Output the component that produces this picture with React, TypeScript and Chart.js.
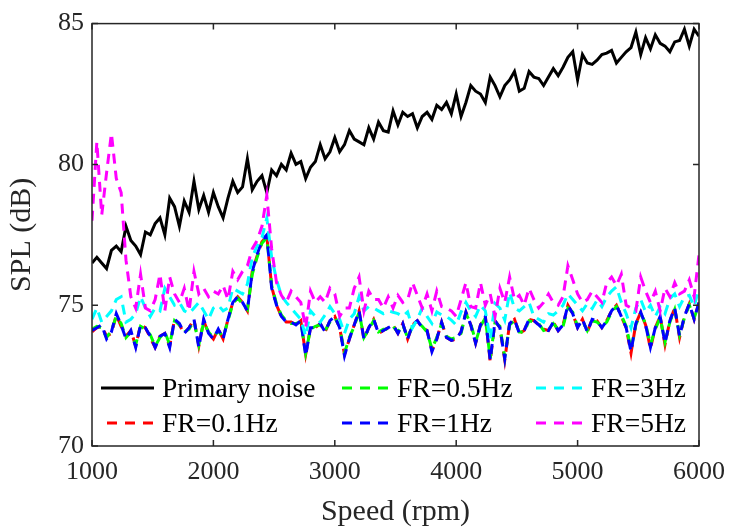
import { useEffect, useRef } from 'react'
import { Chart, registerables } from 'chart.js'

Chart.register(...registerables)

// speed grid (rpm), one sample every 40 rpm
const SPEED = Array.from({ length: 126 }, (_, i) => 1000 + 40 * i)

const PRIMARY = [
  76.5, 76.7, 76.5, 76.3, 76.95, 77.1, 76.9, 77.8, 77.3, 77.1,
  76.8, 77.6, 77.5, 77.9, 78.1, 77.5, 78.8, 78.5, 77.8, 78.7,
  78.3, 79.4, 78.4, 78.9, 78.3, 79.0, 78.5, 78.1, 78.8, 79.4,
  79.0, 79.2, 80.2, 79.1, 79.4, 79.6, 79.0, 79.8, 79.6, 80.0,
  79.8, 80.4, 80.0, 80.1, 79.5, 79.9, 80.1, 80.7, 80.2, 80.45,
  80.95, 80.45, 80.7, 81.2, 80.9, 80.8, 80.7, 81.3, 80.9, 81.5,
  81.2, 81.15, 81.9, 81.4, 81.85, 81.7, 81.8, 81.3, 81.7, 81.85,
  81.6, 82.1, 81.95, 82.2, 81.8, 82.5, 81.7, 82.2, 82.8, 82.6,
  82.5, 82.2, 83.1, 82.8, 82.4, 82.8, 83.0, 83.3, 82.6, 82.7,
  83.3, 83.1, 83.05, 82.8, 83.1, 83.4, 83.15, 83.45, 83.8, 84.0,
  83.0, 83.9, 83.6, 83.55, 83.7, 83.9, 83.95, 84.05, 83.6, 83.8,
  84.0, 84.15, 84.7, 83.9, 84.5, 84.1, 84.6, 84.3, 84.2, 84.0,
  84.35, 84.4, 84.8, 84.2, 84.8, 84.55,
]

const FR01 = [
  74.05, 74.2, 74.25, 73.9, 74.0, 74.65, 74.25, 73.9, 74.1, 73.55,
  74.3, 74.2, 73.85, 73.5, 73.9, 74.0, 73.55, 74.5, 74.3, 74.0,
  74.2, 74.5, 73.55, 74.45, 74.0, 73.8, 74.15, 73.8, 74.5, 75.1,
  75.3, 75.1, 74.8, 76.2, 76.75, 77.25, 77.45, 75.65, 75.0, 74.6,
  74.4, 74.4, 74.3, 74.45, 73.25, 74.2, 74.2, 74.35, 74.05, 74.45,
  74.6, 74.2, 73.25, 73.8, 74.3, 74.8, 73.8, 74.2, 74.5, 74.0,
  74.1, 74.2, 74.3, 74.0, 74.35, 73.8, 74.3, 74.45, 74.2, 74.1,
  73.4, 73.8, 74.4, 73.85, 73.75, 73.8, 74.05, 74.75, 74.3, 73.65,
  74.3, 74.6, 73.0, 74.45, 74.2, 73.05, 74.35, 74.5, 74.0, 74.1,
  74.5, 74.45, 74.3, 74.15, 74.1, 74.4, 74.1, 74.3, 75.0, 74.7,
  74.2, 74.5, 74.05, 74.5, 74.45, 74.2, 74.45, 74.8, 75.0, 74.6,
  74.2, 73.3, 74.35, 74.75, 74.3, 73.45, 74.2, 74.6, 73.6, 74.45,
  74.9, 73.85, 74.6, 75.05, 74.5, 75.1,
]

const FR05 = [
  74.15, 74.25, 74.2, 73.85, 74.1, 74.6, 74.35, 73.85, 74.05, 73.6,
  74.25, 74.15, 73.95, 73.55, 73.85, 74.05, 73.6, 74.45, 74.3, 74.05,
  74.15, 74.45, 73.6, 74.4, 74.05, 73.85, 74.1, 73.85, 74.45, 75.05,
  75.25, 75.05, 74.85, 76.1, 76.7, 77.2, 77.4, 75.7, 75.05, 74.65,
  74.45, 74.35, 74.35, 74.4, 73.3, 74.15, 74.25, 74.3, 74.1, 74.4,
  74.55, 74.25, 73.3, 73.85, 74.25, 74.75, 73.85, 74.15, 74.45, 74.05,
  74.15, 74.15, 74.25, 74.05, 74.3, 73.85, 74.25, 74.4, 74.25, 74.05,
  73.45, 73.85, 74.35, 73.9, 73.8, 73.85, 74.0, 74.7, 74.35, 73.7,
  74.25, 74.55, 73.1, 74.4, 74.25, 73.15, 74.3, 74.45, 74.05, 74.05,
  74.45, 74.4, 74.35, 74.1, 74.15, 74.35, 74.15, 74.25, 74.9, 74.75,
  74.25, 74.45, 74.1, 74.45, 74.4, 74.25, 74.4, 74.75, 74.95, 74.65,
  74.25, 73.45, 74.3, 74.7, 74.35, 73.6, 74.15, 74.55, 73.7, 74.4,
  74.85, 73.95, 74.55, 75.0, 74.55, 75.05,
]

const FR1 = [
  74.1, 74.2, 74.3, 73.8, 74.05, 74.7, 74.3, 73.8, 74.1, 73.5,
  74.3, 74.2, 73.9, 73.5, 73.9, 74.0, 73.5, 74.5, 74.35, 74.0,
  74.2, 74.5, 73.5, 74.5, 74.0, 73.8, 74.15, 73.8, 74.5, 75.1,
  75.3, 75.1, 74.8, 76.2, 76.8, 77.3, 77.5, 75.6, 75.0, 74.6,
  74.4, 74.4, 74.3, 74.45, 73.2, 74.2, 74.2, 74.35, 74.05, 74.45,
  74.6, 74.2, 73.2, 73.8, 74.3, 74.8, 73.8, 74.2, 74.5, 74.0,
  74.1, 74.2, 74.3, 74.0, 74.35, 73.8, 74.3, 74.45, 74.2, 74.1,
  73.35, 73.8, 74.4, 73.85, 73.75, 73.8, 74.05, 74.75, 74.3, 73.65,
  74.3, 74.6, 73.05, 74.45, 74.2, 73.1, 74.35, 74.5, 74.0, 74.1,
  74.5, 74.45, 74.3, 74.15, 74.1, 74.4, 74.1, 74.3, 75.0, 74.7,
  74.2, 74.5, 74.05, 74.5, 74.45, 74.2, 74.45, 74.8, 75.0, 74.6,
  74.2, 73.35, 74.35, 74.75, 74.3, 73.5, 74.2, 74.6, 73.65, 74.45,
  74.9, 73.9, 74.6, 75.05, 74.5, 75.1,
]

const FR3 = [
  74.5, 74.9, 74.4, 74.6, 74.8, 75.2, 75.3, 74.4, 74.5, 74.7,
  75.3, 74.9, 74.6, 74.9, 74.8, 75.6, 75.3, 75.0, 75.1, 74.8,
  74.7, 74.9, 75.1, 74.8, 74.5, 74.9, 75.0, 74.8, 74.9, 75.6,
  75.5, 75.4, 75.75, 76.7, 77.1, 77.4, 78.1, 76.7, 75.9, 75.35,
  75.1, 74.9, 74.7, 74.5, 73.9, 74.8, 74.6, 74.4, 74.65, 74.95,
  74.7, 74.5, 74.0, 74.5, 74.7, 75.3, 74.8, 74.95, 74.9, 74.8,
  74.7, 74.8, 74.75, 74.7, 74.6, 74.76, 74.2, 74.5, 74.9, 74.6,
  74.35, 74.76, 74.65, 74.6, 74.47, 74.3, 74.76, 75.1, 74.8, 74.6,
  75.0, 74.8, 73.8, 75.06, 74.9, 74.47, 75.45, 74.9, 74.8, 74.95,
  75.1, 74.6, 74.5, 74.4, 74.7, 74.65, 74.8, 75.0, 75.4, 75.2,
  75.0, 74.8, 75.06, 74.88, 75.18, 74.95, 75.3, 75.5, 75.65, 75.1,
  74.7, 74.2, 74.9, 75.2, 74.76, 75.0, 74.6, 74.94, 74.7, 75.24,
  75.4, 74.95, 75.3, 75.35, 74.95, 75.6,
]

const FR5 = [
  78.0, 80.8, 78.2, 79.7, 81.1, 79.5, 79.0, 76.6, 75.3, 74.9,
  76.1, 74.9, 74.8, 75.2, 76.1, 74.8, 76.0, 75.4, 75.1, 75.6,
  74.8, 76.2, 75.4, 75.6, 75.3, 75.5, 75.4, 75.7, 75.2, 76.2,
  75.9, 76.2, 76.4, 77.0, 77.3, 77.8, 78.9, 77.0, 75.8, 75.35,
  75.1, 75.5, 75.3, 75.1, 74.2, 75.5, 75.1, 75.3, 75.1, 75.6,
  75.4, 74.6, 74.9, 74.9, 75.6, 76.0, 74.8, 75.5, 75.2, 75.2,
  74.9, 75.3, 74.9, 75.35, 75.1, 75.2, 75.8, 75.35, 74.9, 75.4,
  74.8, 75.5, 74.95, 74.9, 74.8, 74.6, 75.2, 75.8, 74.95, 74.9,
  75.8, 75.0, 75.4, 74.6, 75.6, 75.1, 76.0, 75.2, 75.35, 75.0,
  75.6, 75.2, 74.9, 75.1, 75.4, 75.1, 75.0, 75.3, 76.4, 75.9,
  75.4, 75.1, 75.2, 75.5, 75.3, 75.1, 75.8, 76.0, 75.7, 76.1,
  75.0, 74.9, 74.8, 76.0, 75.5, 75.1, 75.5, 74.8, 75.6, 75.3,
  75.8, 75.4, 75.5, 75.9, 75.3, 76.8,
]

const SERIES = [
  { label: 'Primary noise', data: PRIMARY, color: '#000000', dash: [] as number[] },
  { label: 'FR=0.1Hz', data: FR01, color: '#FF0000', dash: [10, 7] },
  { label: 'FR=0.5Hz', data: FR05, color: '#00FF00', dash: [10, 7] },
  { label: 'FR=1Hz', data: FR1, color: '#0000FF', dash: [10, 7] },
  { label: 'FR=3Hz', data: FR3, color: '#00FFFF', dash: [10, 7] },
  { label: 'FR=5Hz', data: FR5, color: '#FF00FF', dash: [10, 7] },
]

const X_TICKS = [1000, 2000, 3000, 4000, 5000, 6000]
const Y_TICKS = [70, 75, 80, 85]

const FONT = '"Liberation Serif", "Times New Roman", serif'
const INK = '#262626'

// legend slots: column-major, 3 columns x 2 rows, like MATLAB
const LEG_COLS = [101, 336, 530]
const LEG_ROWS = [388, 423]

const framePlugin = {
  id: 'frame',
  afterDraw(chart: Chart) {
    const { ctx, chartArea: a } = chart
    const xs = chart.scales.x
    const ys = chart.scales.y
    ctx.save()
    ctx.strokeStyle = INK
    ctx.lineWidth = 1.5
    ctx.setLineDash([])
    ctx.strokeRect(a.left, a.top, a.right - a.left, a.bottom - a.top)
    ctx.beginPath()
    X_TICKS.forEach(t => {
      const px = xs.getPixelForValue(t)
      ctx.moveTo(px, a.bottom); ctx.lineTo(px, a.bottom - 6)
      ctx.moveTo(px, a.top); ctx.lineTo(px, a.top + 6)
    })
    Y_TICKS.forEach(t => {
      const py = ys.getPixelForValue(t)
      ctx.moveTo(a.left, py); ctx.lineTo(a.left + 6, py)
      ctx.moveTo(a.right, py); ctx.lineTo(a.right - 6, py)
    })
    ctx.stroke()

    // legend
    ctx.font = `27.5px ${FONT}`
    ctx.textBaseline = 'middle'
    ctx.textAlign = 'left'
    SERIES.forEach((s, i) => {
      const x0 = LEG_COLS[Math.floor(i / 2)]
      const y0 = LEG_ROWS[i % 2]
      ctx.strokeStyle = s.color
      ctx.lineWidth = 3
      ctx.setLineDash(s.dash.length ? [10, 8] : [])
      ctx.lineDashOffset = s.dash.length ? 12 : 0
      ctx.beginPath()
      ctx.moveTo(x0, y0); ctx.lineTo(x0 + 53, y0)
      ctx.stroke()
      ctx.fillStyle = '#000'
      ctx.fillText(s.label, x0 + 61, y0 + 2)
    })
    ctx.setLineDash([])
    ctx.lineDashOffset = 0

    // axis titles
    ctx.fillStyle = INK
    ctx.font = `30px ${FONT}`
    ctx.textAlign = 'center'
    ctx.fillText('Speed (rpm)', (a.left + a.right) / 2, 512)
    ctx.translate(22, (a.top + a.bottom) / 2)
    ctx.rotate(-Math.PI / 2)
    ctx.fillText('SPL (dB)', 0, 0)
    ctx.restore()
  },
}

export default function App() {
  const canvasRef = useRef<HTMLCanvasElement>(null)
  const chartRef = useRef<Chart | null>(null)

  useEffect(() => {
    if (!canvasRef.current) return
    if (chartRef.current) chartRef.current.destroy()

    chartRef.current = new Chart(canvasRef.current, {
      type: 'line',
      data: {
        datasets: SERIES.map((s, i) => ({
          label: s.label,
          data: SPEED.map((x, j) => ({ x, y: s.data[j] })),
          borderColor: s.color,
          borderWidth: 3,
          borderDash: s.dash,
          pointRadius: 0,
          tension: 0,
          fill: false,
          order: SERIES.length - 1 - i,
        })),
      },
      options: {
        animation: false,
        responsive: true,
        maintainAspectRatio: false,
        layout: { padding: { top: 23, right: 38, left: 0, bottom: 0 } },
        scales: {
          x: {
            type: 'linear',
            min: 1000, max: 6000,
            afterFit: (s: any) => { s.height = 86 },
            afterBuildTicks: (s: any) => { s.ticks = X_TICKS.map(v => ({ value: v })) },
            ticks: {
              color: INK, padding: 11, maxRotation: 0,
              font: { family: FONT, size: 26 },
              callback: (v: any) => String(v),
            },
            grid: { display: false, drawTicks: false },
            border: { display: false },
          },
          y: {
            min: 70, max: 85,
            afterFit: (s: any) => { s.width = 92 },
            afterBuildTicks: (s: any) => { s.ticks = Y_TICKS.map(v => ({ value: v })) },
            ticks: {
              color: INK, padding: 8,
              font: { family: FONT, size: 26 },
              callback: (v: any) => String(v),
            },
            grid: { display: false, drawTicks: false },
            border: { display: false },
          },
        },
        plugins: { legend: { display: false }, tooltip: { enabled: false } },
      },
      plugins: [framePlugin],
    })

    return () => { chartRef.current?.destroy() }
  }, [])

  return (
    <div style={{ position: 'fixed', left: 0, top: 0, width: 737, height: 532, background: '#fff' }}>
      <canvas ref={canvasRef} />
    </div>
  )
}
